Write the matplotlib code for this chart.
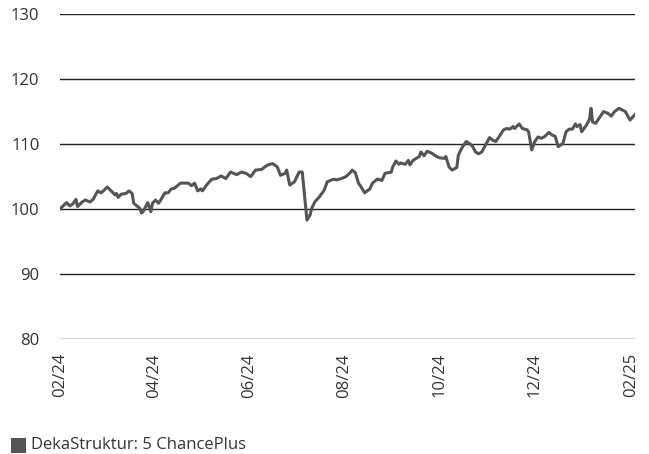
import numpy as np
import matplotlib
matplotlib.use("Agg")
import matplotlib.pyplot as plt
import matplotlib.dates as mdates
from matplotlib.patches import Rectangle

plt.rcParams['font.family'] = ['Open Sans', 'DejaVu Sans']

# Tage seit 01.02.2024 und Wertentwicklung (indexiert auf 100)
tage = [0, 4, 6, 8, 10, 11, 14, 16, 19, 21, 24, 26, 28, 30, 33, 35, 36, 37, 39, 42,
        44, 46, 47, 51, 52, 53, 56, 58, 59, 61, 63, 67, 69, 71, 73, 77, 82, 84, 86, 88,
        90, 91, 94, 97, 100, 103, 106, 109, 113, 116, 119, 122, 125, 129, 131, 133, 136, 139, 141, 144,
        145, 147, 150, 152, 153, 155, 158, 160, 161, 163, 166, 169, 171, 175, 177, 180, 183, 186, 187, 189,
        191, 193, 195, 197, 198, 200, 203, 204, 206, 208, 210, 212, 213, 215, 217, 218, 221, 223, 224, 226,
        228, 230, 231, 233, 235, 238, 241, 243, 246, 247, 249, 251, 254, 255, 257, 260, 262, 264, 266, 268,
        270, 273, 275, 277, 279, 281, 284, 286, 288, 290, 291, 294, 296, 299, 300, 302, 304, 306, 308, 310,
        313, 315, 317, 319, 322, 324, 326, 328, 330, 331, 333, 334, 337, 339, 340, 341, 343, 348, 351, 353,
        355, 358, 362, 365, 368]
werte = [100.1, 101.0, 100.5, 100.8, 101.5, 100.4, 101.1, 101.4, 101.1, 101.5, 102.8, 102.5, 102.9, 103.4, 102.7, 102.2, 102.4, 101.8, 102.3, 102.4,
         102.8, 102.4, 100.9, 100.1, 99.4, 99.6, 101.0, 99.6, 100.9, 101.4, 100.9, 102.5, 102.5, 103.1, 103.2, 104.0, 104.0, 103.6, 104.0, 102.8,
         103.1, 102.8, 103.8, 104.6, 104.7, 105.1, 104.7, 105.7, 105.3, 105.7, 105.5, 105.0, 106.0, 106.1, 106.5, 106.8, 107.0, 106.5, 105.2, 105.5,
         106.0, 103.7, 104.2, 105.2, 105.7, 105.7, 98.3, 99.1, 100.1, 101.1, 101.9, 102.9, 104.2, 104.6, 104.5, 104.7, 105.0, 105.7, 106.0, 105.6,
         104.0, 103.3, 102.5, 102.9, 103.0, 104.0, 104.6, 104.6, 104.4, 105.5, 105.6, 105.7, 106.5, 107.4, 106.9, 107.1, 106.9, 107.5, 106.8, 107.5,
         107.8, 108.1, 108.8, 108.2, 108.9, 108.6, 108.1, 107.9, 107.8, 108.1, 106.5, 106.0, 106.4, 108.3, 109.3, 110.4, 110.1, 109.7, 108.8, 108.5,
         108.8, 110.1, 111.0, 110.6, 110.4, 111.1, 112.2, 112.4, 112.3, 112.7, 112.4, 113.1, 112.4, 112.2, 111.9, 109.1, 110.4, 111.1, 110.9, 111.1,
         111.8, 111.4, 111.2, 109.6, 110.1, 111.9, 112.3, 112.3, 113.1, 112.7, 113.0, 111.9, 112.9, 113.8, 115.5, 113.4, 113.2, 115.0, 114.7, 114.3,
         115.0, 115.5, 115.0, 113.7, 114.5]

start = np.datetime64('2024-02-01')
datum = start + np.array(tage, dtype='timedelta64[D]')

y_ticks = [80, 90, 100, 110, 120, 130]
fondsname = "DekaStruktur: 5 ChancePlus"
farbe = "#555555"
textfarbe = "#333333"

fig = plt.figure(figsize=(6.49, 4.54), dpi=100)
ax = fig.add_axes([0.093, 0.253, 0.885, 0.716])

ax.plot(datum, werte, color=farbe, linewidth=2.2, solid_joinstyle='round')

ax.set_ylim(80, 130)
ax.set_yticks(y_ticks)
ax.set_xlim(datum[0], datum[-1])
ax.xaxis.set_major_locator(mdates.MonthLocator(bymonth=[2, 4, 6, 8, 10, 12]))
ax.xaxis.set_major_formatter(mdates.DateFormatter('%m/%y'))

ax.grid(True, axis='y', color='#222222', linewidth=1.0)
ax.set_axisbelow(True)
for s in ax.spines.values():
    s.set_visible(False)
ax.tick_params(axis='y', length=0, pad=15, labelsize=12, labelcolor=textfarbe)
ax.tick_params(axis='x', length=0, pad=10, labelsize=12, labelcolor=textfarbe, labelrotation=90)

# Legende unten links
fig.patches.append(Rectangle((0.017, 0.003), 0.023, 0.032, transform=fig.transFigure,
                             facecolor=farbe, edgecolor='none'))
fig.text(0.048, 0.019, fondsname, fontsize=12, color=textfarbe, va='center', ha='left')

fig.savefig("out.png", dpi=100)
